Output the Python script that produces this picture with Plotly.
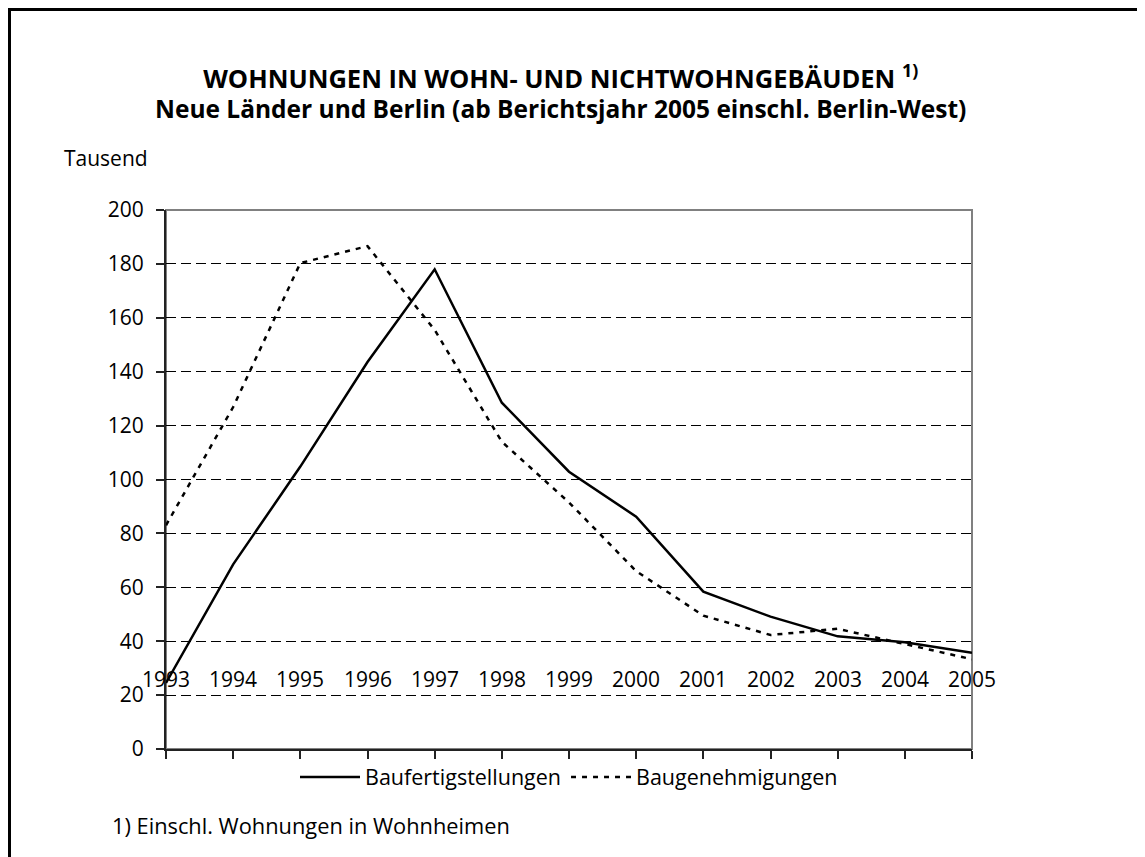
import plotly.graph_objects as go

# ---- data ----
years = ["1993", "1994", "1995", "1996", "1997", "1998", "1999",
         "2000", "2001", "2002", "2003", "2004", "2005"]
baufertigstellungen = [24.5, 68.5, 104.8, 143.6, 178.0, 128.5, 102.9,
                       86.2, 58.4, 49.1, 41.8, 39.6, 35.7]
baugenehmigungen = [83.0, 126.9, 180.3, 186.6, 155.5, 114.0, 91.5,
                    66.0, 49.5, 42.3, 44.6, 39.0, 33.3]
y_ticks = [0, 20, 40, 60, 80, 100, 120, 140, 160, 180, 200]
name_solid = "Baufertigstellungen"
name_dot = "Baugenehmigungen"
title_main = "WOHNUNGEN IN WOHN- UND NICHTWOHNGEBÄUDEN"
title_sub = "Neue Länder und Berlin (ab Berichtsjahr 2005 einschl. Berlin-West)"
unit_label = "Tausend"
footnote = "1) Einschl. Wohnungen in Wohnheimen"
year_label_level = 26  # value level at which the year labels sit

# ---- layout geometry (figure pixels; page = figure + 8px body margin) ----
W, H = 1145, 857
OFF = 8
L, R, T, B = 166 - OFF, 972 - OFF, 210 - OFF, 749 - OFF
PW, PH = R - L, B - T
FONT = "Open Sans"


def px(x_page):
    return (x_page - OFF - L) / PW


def py(y_page):
    return (B - (y_page - OFF)) / PH


fig = go.Figure()
fig.add_trace(go.Scatter(
    x=years, y=baufertigstellungen, name=name_solid, mode="lines",
    line=dict(color="black", width=2.5)))
fig.add_trace(go.Scatter(
    x=years, y=baugenehmigungen, name=name_dot, mode="lines",
    line=dict(color="black", width=2.5, dash="5px,6px")))

annotations = []
for i, yr in enumerate(years):
    annotations.append(dict(x=i, y=year_label_level, xref="x", yref="y",
                            text=yr, showarrow=False, xanchor="center",
                            yanchor="middle",
                            font=dict(family=FONT, size=21, color="black")))

title_text = ("<span style='font-size:25.5px'><b>" + title_main +
              " <sup>1)</sup></b></span><br>"
              "<span style='font-size:24.5px'><b>" + title_sub +
              "</b></span>")
annotations += [
    dict(x=px(560), y=py(91), xref="paper", yref="paper",
         text=title_text, showarrow=False, align="center",
         xanchor="center", yanchor="middle",
         font=dict(family=FONT, size=23, color="black")),
    dict(x=px(62), y=py(158), xref="paper", yref="paper",
         text=unit_label, showarrow=False, xanchor="left", yanchor="middle",
         font=dict(family=FONT, size=21, color="black")),
    dict(x=px(110), y=py(825), xref="paper", yref="paper",
         text=footnote, showarrow=False, xanchor="left", yanchor="middle",
         font=dict(family=FONT, size=21.8, color="black")),
]

shapes = [
    # grey plot frame (top/right visible)
    dict(type="rect", xref="paper", yref="paper", x0=0, x1=1, y0=0, y1=1,
         line=dict(color="#808080", width=2), layer="below"),
    # outer black border of the figure
    dict(type="rect", xref="paper", yref="paper",
         x0=(1.5 - L) / PW, x1=(W - 1.5 - L) / PW,
         y0=(B - (H - 1.5)) / PH, y1=(B - 1.5) / PH,
         line=dict(color="black", width=3), layer="above"),
]

fig.update_layout(
    width=W, height=H,
    margin=dict(l=L, r=W - R, t=T, b=H - B, pad=0),
    paper_bgcolor="white", plot_bgcolor="white",
    font=dict(family=FONT, size=21, color="black"),
    showlegend=True,
    legend=dict(orientation="h", x=px(569), xanchor="center",
                y=py(777), yanchor="middle",
                font=dict(family=FONT, size=21.5, color="black"),
                bgcolor="rgba(0,0,0,0)", itemwidth=60),
    annotations=annotations,
    shapes=shapes,
)
fig.update_xaxes(
    type="category", range=[0, len(years) - 1],
    showticklabels=False, showgrid=False, zeroline=False,
    showline=True, linecolor="#222222", linewidth=2,
    ticks="outside", ticklen=8, tickcolor="#222222", tickwidth=1.5,
)
fig.update_yaxes(
    range=[0, 200], tickvals=y_ticks, ticktext=[str(v) for v in y_ticks],
    showgrid=True, gridcolor="black", gridwidth=1, griddash="10px,5px",
    zeroline=False, showline=True, linecolor="#222222", linewidth=2,
    ticks="outside", ticklen=8, tickcolor="#222222", tickwidth=1.5,
    ticklabelstandoff=8,
    tickfont=dict(family=FONT, size=21, color="black"),
)

fig.write_html("out.html")
